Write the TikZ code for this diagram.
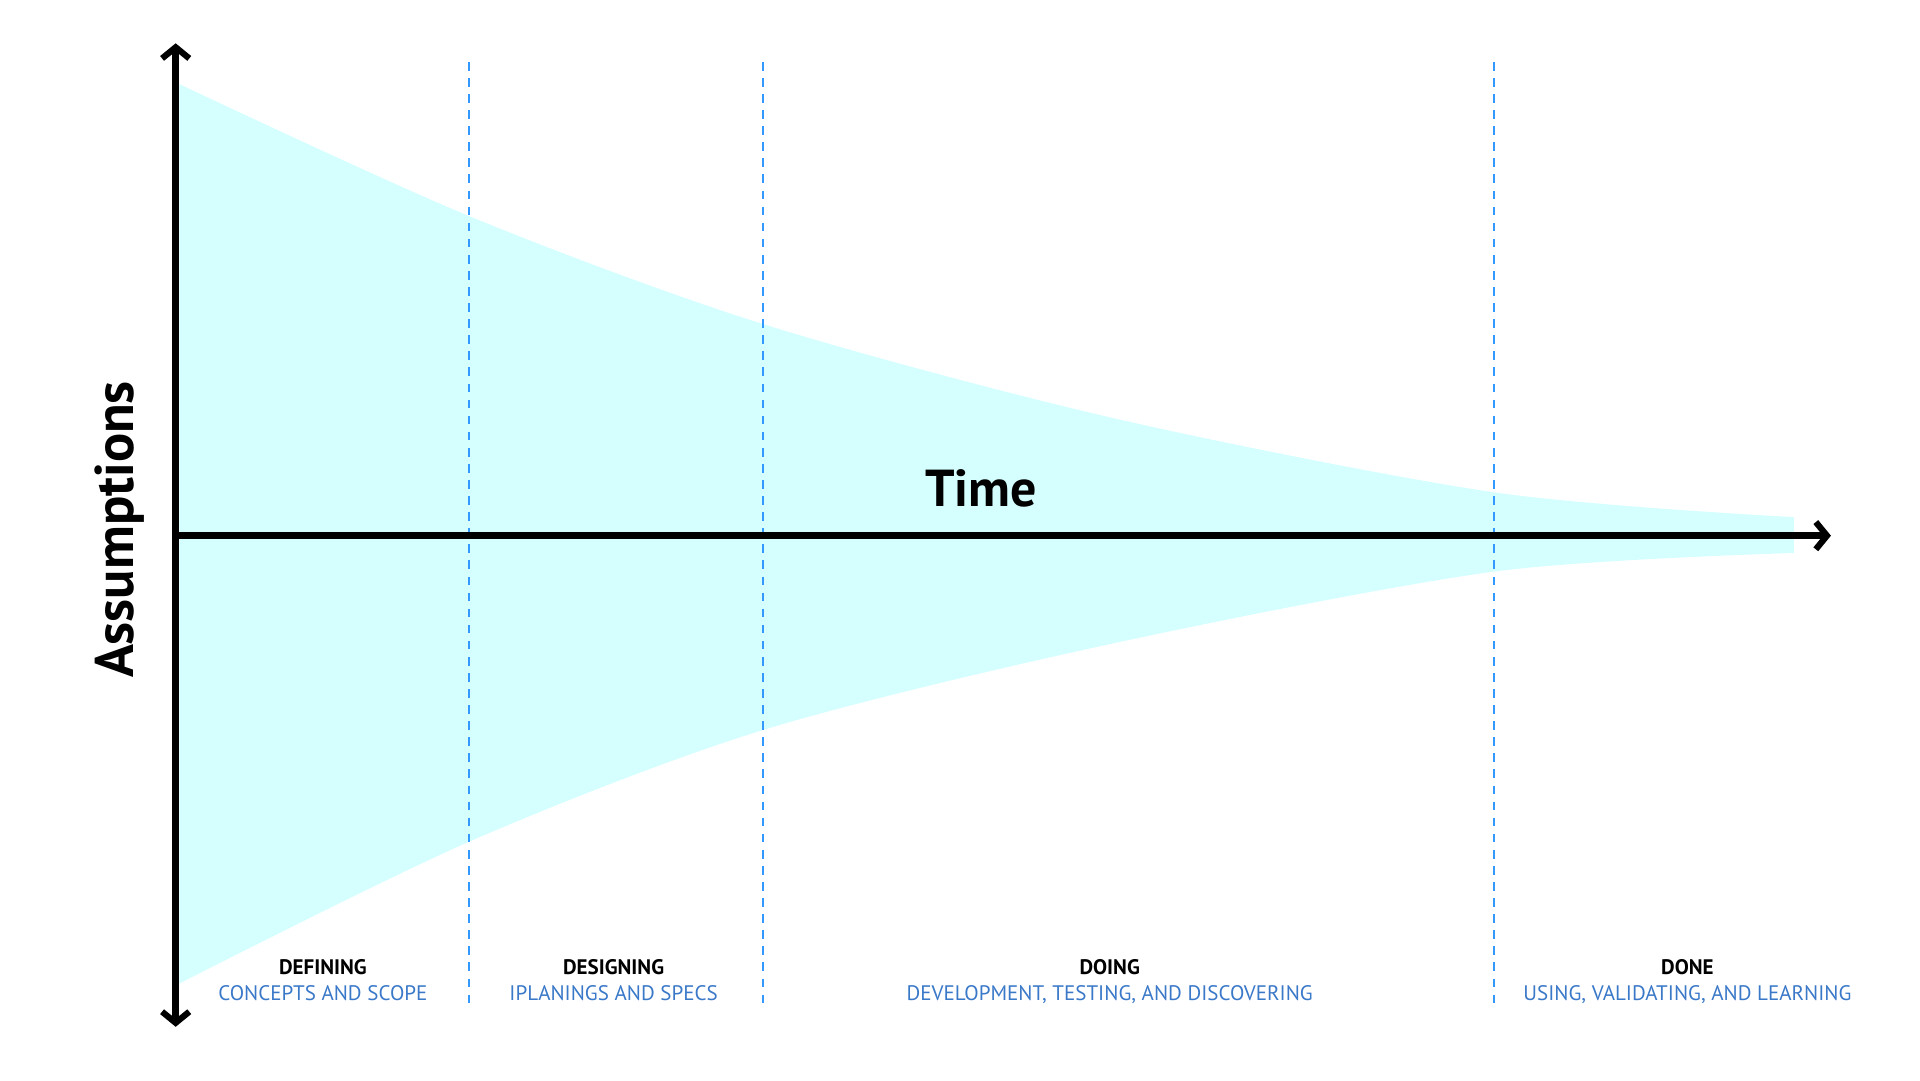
\documentclass[tikz,border=0pt]{standalone}
\usepackage{fontspec}
\setmainfont{PT Sans}
\usetikzlibrary{positioning,arrows.meta}
\definecolor{funnel}{HTML}{D5FFFF}
\definecolor{phaseline}{HTML}{3399FF}
\definecolor{phasetext}{HTML}{3A78C8}
\tikzset{
  axis/.style={line width=6pt, {Straight Barb[length=9pt,width=22pt,line width=5pt]}-{Straight Barb[length=9pt,width=22pt,line width=5pt]}},
  phase/.style={phaseline, line width=1.6pt, dash pattern=on 7pt off 6pt},
  phasename/.style={font=\bfseries\fontsize{17}{18}\selectfont, inner sep=0pt},
  phasedesc/.style={text=phasetext, font=\fontsize{17}{18}\selectfont, inner sep=0pt},
}
\begin{document}
\begin{tikzpicture}[x=1pt,y=-1pt]
	\useasboundingbox (0,0) rectangle (1552,873);
	% funnel of assumptions
	\fill[funnel] plot[smooth] coordinates {(145,68) (380,175) (617,262) (900,338) (1208,398) (1450,418)}
		-- plot[smooth] coordinates {(1450,447) (1208,462) (900,520) (617,590) (380,680) (145,795)} -- cycle;
	% phase borders
	\foreach \px in {379,617,1208}
		\draw[phase] (\px,50) -- (\px,815);
	% axes
	\coordinate (top) at (142,35);
	\coordinate (bottom) at (142,830);
	\coordinate (origin) at (142,433);
	\coordinate (end) at (1480,433);
	\draw[axis] (bottom) -- (top);
	\draw[line width=6pt, -{Straight Barb[length=9pt,width=22pt,line width=5pt]}] (origin) -- (end);
	\node[font=\bfseries\fontsize{42}{44}\selectfont] (time) at (793,395) {Time};
	\node[font=\bfseries\fontsize{44}{46}\selectfont, rotate=90] (assume) at (97,428) {Assumptions};
	% phases
	\node[phasename] (defining) at (261,782) {DEFINING};
	\node[phasedesc, below=8pt of defining] (definingd) {CONCEPTS AND SCOPE};
	\node[phasename] (designing) at (496,782) {DESIGNING};
	\node[phasedesc, below=8pt of designing] (designingd) {IPLANINGS AND SPECS};
	\node[phasename] (doing) at (897,782) {DOING};
	\node[phasedesc, below=8pt of doing] (doingd) {DEVELOPMENT, TESTING, AND DISCOVERING};
	\node[phasename] (done) at (1364,782) {DONE};
	\node[phasedesc, below=8pt of done] (doned) {USING, VALIDATING, AND LEARNING};
\end{tikzpicture}
\end{document}
